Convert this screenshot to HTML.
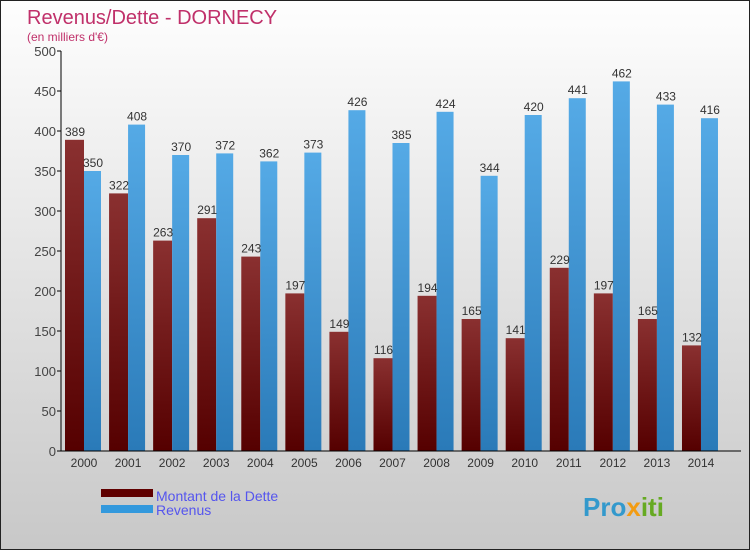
<!DOCTYPE html>
<html><head><meta charset="utf-8"><style>
body{margin:0}
#c{width:750px;height:550px;position:relative;background:linear-gradient(#fefefe,#c8c8c8);box-sizing:border-box;border:1px solid #222;font-family:"Liberation Sans",sans-serif}
svg{position:absolute;left:0;top:0}
</style></head><body>
<div id="c">
<svg id="s" width="750" height="550" font-family="Liberation Sans, sans-serif">
<text x="26" y="23" font-size="20" fill="#c0306a">Revenus/Dette - DORNECY</text>
<text x="26" y="40" font-size="12" fill="#c0306a">(en milliers d'€)</text>
<g id="g"></g>
<rect x="100" y="488" width="52" height="8" fill="#600000"/>
<rect x="100" y="504" width="52" height="8" fill="#3399dd"/>
<text x="155" y="500" font-size="14" fill="#5555ee">Montant de la Dette</text>
<text x="155" y="514" font-size="14" fill="#5555ee">Revenus</text>
<text x="582" y="515" font-size="26" font-weight="bold" fill="#3399cc">Pro<tspan fill="#f39c12">x</tspan><tspan fill="#66aa22">iti</tspan></text>
</svg></div>
<script>
const years=["2000","2001","2002","2003","2004","2005","2006","2007","2008","2009","2010","2011","2012","2013","2014"];
const dette=[389,322,263,291,243,197,149,116,194,165,141,229,197,165,132];
const revenus=[350,408,370,372,362,373,426,385,424,344,420,441,462,433,416];
const ticks=[0,50,100,150,200,250,300,350,400,450,500];
const g=document.getElementById('g');const NS="http://www.w3.org/2000/svg";
const y=v=>450-v*0.8;const xc=i=>83+i*44.07;
function mk(t,a){const e=document.createElementNS(NS,t);for(const k in a)e.setAttribute(k,a[k]);g.appendChild(e);return e;}
ticks.forEach(t=>{
const l=mk('line',{x1:56,x2:60,y1:y(t),y2:y(t),stroke:'#000'});


const tx=mk('text',{x:55,y:y(t)+5,'text-anchor':'end','font-size':13,fill:'#444'});tx.textContent=t;


});
years.forEach((yr,i)=>{
const c=xc(i);
const a=mk('rect',{x:c-19,y:y(dette[i]),width:19,height:dette[i]*0.8,fill:'url(#gd)'});


const b=mk('rect',{x:c,y:y(revenus[i]),width:17,height:revenus[i]*0.8,fill:'url(#gr)'});


const t1=mk('text',{x:c-9,y:y(dette[i])-4,'text-anchor':'middle','font-size':12,fill:'#333'});t1.textContent=dette[i];


const t2=mk('text',{x:c+9,y:y(revenus[i])-4,'text-anchor':'middle','font-size':12,fill:'#333'});t2.textContent=revenus[i];


const xl=mk('text',{x:c,y:466,'text-anchor':'middle','font-size':12,fill:'#333'});xl.textContent=yr;


});
const ax=mk('path',{d:'M60 50 V450 H740',stroke:'#000',fill:'none'});


const d=mk('defs',{});
d.innerHTML='<linearGradient id="gd" x1="0" y1="0" x2="0" y2="1"><stop offset="0" stop-color="#8a3030"/><stop offset="1" stop-color="#550000"/></linearGradient><linearGradient id="gr" x1="0" y1="0" x2="0" y2="1"><stop offset="0" stop-color="#55aae6"/><stop offset="1" stop-color="#2a7ab8"/></linearGradient>';
</script>
</body></html>
